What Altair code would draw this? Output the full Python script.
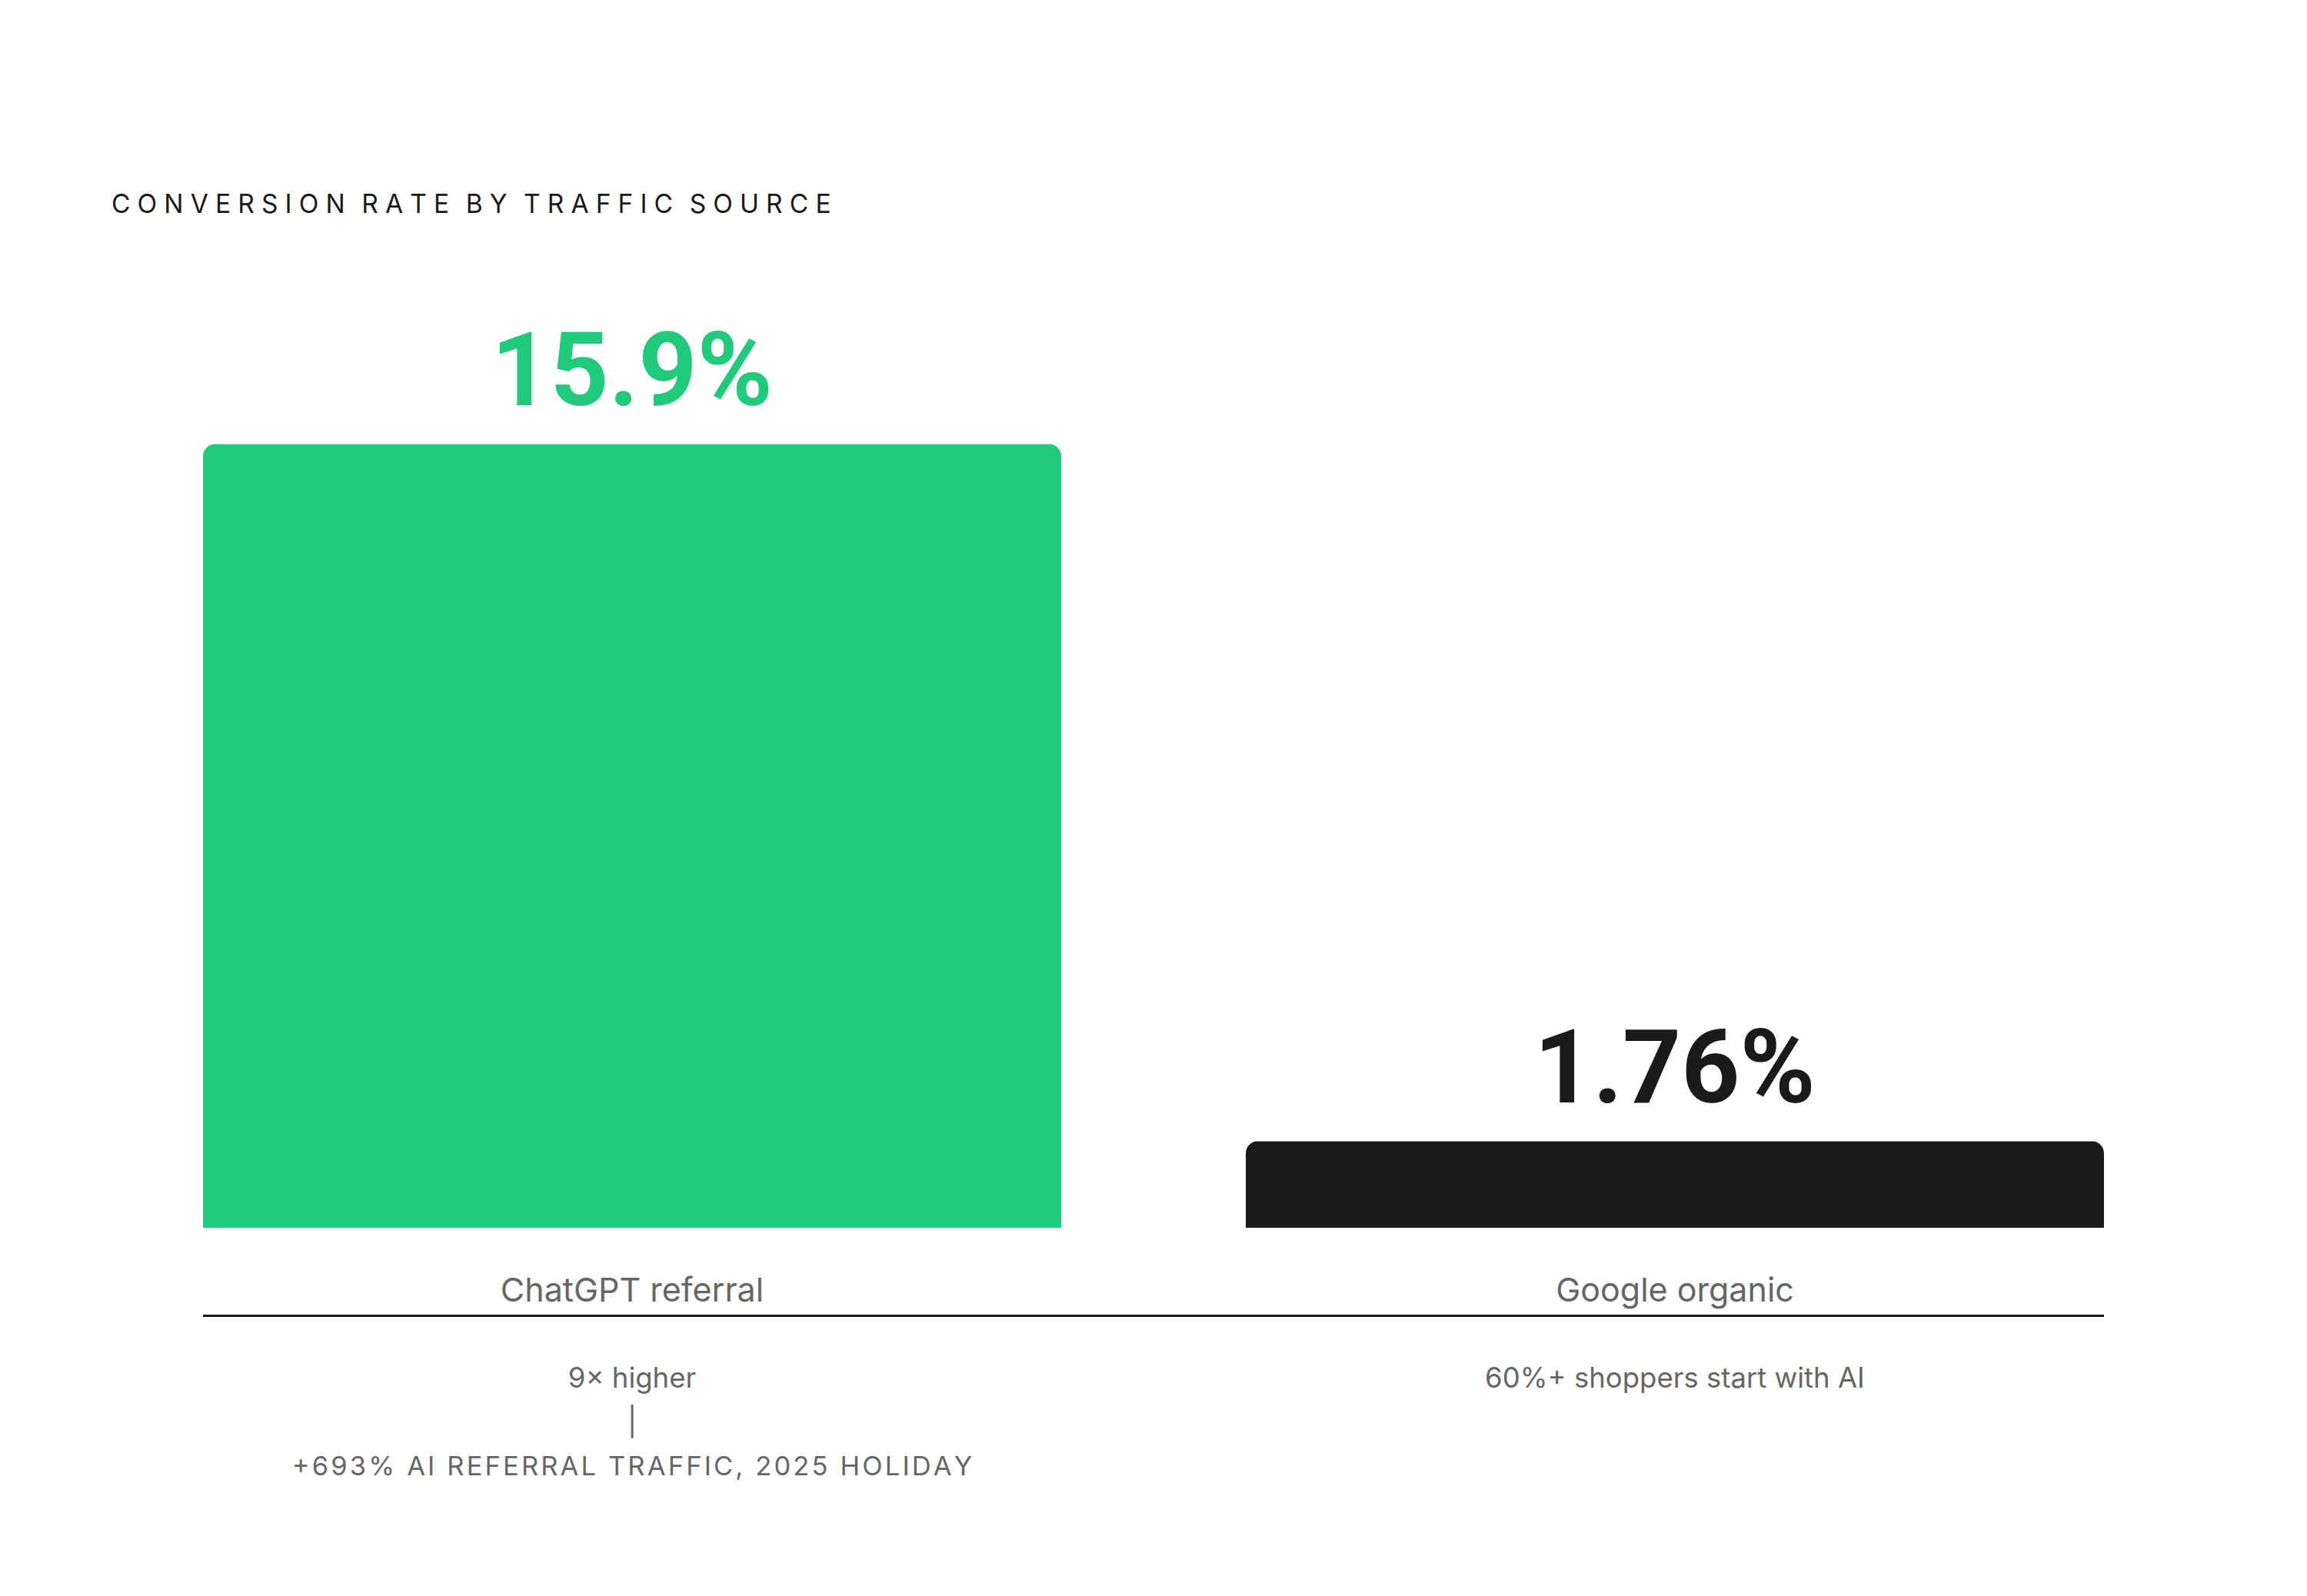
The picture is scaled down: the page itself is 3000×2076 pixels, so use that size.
import altair as alt
import pandas as pd

categories = ["ChatGPT referral", "Google organic"]
rates = [15.9, 1.76]
value_labels = ["15.9%", "1.76%"]
note_lines = [
    ["9× higher", "|"],
    ["60%+ shoppers start with AI"],
]
taglines = ["+693% AI REFERRAL TRAFFIC, 2025 HOLIDAY", ""]
bar_colors = ["#1FCB7B", "#1C1A18"]
title_text = "CONVERSION RATE BY TRAFFIC SOURCE"


def tracked(s, word_sep, gap_sep=None):
    """Insert narrow spaces between letters to imitate letter-spacing."""
    if not s:
        return s
    if gap_sep is None:
        gap_sep = word_sep
    out = s[0]
    for prev, ch in zip(s, s[1:]):
        if prev == " " or ch == " ":
            out += gap_sep + ch
        else:
            out += word_sep + ch
    return out


df = pd.DataFrame({
    "category": categories,
    "rate": rates,
    "label": value_labels,
    "note": ["\n".join(lines) for lines in note_lines],
    "tagline": [tracked(t, "\u200a") for t in taglines],
})

W = 2472
H = 1026
FONT = "Inter"

x_enc = alt.X(
    "category:N",
    sort=categories,
    scale=alt.Scale(paddingInner=240 / 1356, paddingOuter=0),
    axis=None,
)
y_enc = alt.Y("rate:Q", scale=alt.Scale(domain=[0, 16]), axis=None)
color_enc = alt.Color(
    "category:N",
    scale=alt.Scale(domain=categories, range=bar_colors),
    legend=None,
)

base = alt.Chart(df)

bars = base.mark_bar(cornerRadiusTopLeft=16, cornerRadiusTopRight=16).encode(
    x=x_enc, y=y_enc, color=color_enc
)

values = base.mark_text(
    font="Roboto", fontSize=133, fontWeight="bold", baseline="alphabetic", dy=-50
).encode(x=x_enc, y=y_enc, text="label:N", color=color_enc)

cat_labels = base.mark_text(
    font=FONT, fontSize=43, color="#666666", baseline="alphabetic"
).encode(x=x_enc, y=alt.value(1122), text="category:N")

rule = alt.Chart(pd.DataFrame({"k": [0]})).mark_rule(
    color="#1A1A1A", strokeWidth=3
).encode(x=alt.value(0), x2=alt.value(W), y=alt.value(1140.5))

note_text = base.mark_text(
    font=FONT, fontSize=36.5, color="#666666", baseline="alphabetic",
    lineBreak="\n", lineHeight=57
).encode(x=x_enc, y=alt.value(1234), text="note:N")

tag_text = base.mark_text(
    font=FONT, fontSize=34.5, color="#666666", baseline="alphabetic"
).encode(x=x_enc, y=alt.value(1348), text="tagline:N")

spaced_title = tracked(title_text, "\u2009\u200a", "\u2009")
title = alt.Chart(pd.DataFrame({"t": [spaced_title]})).mark_text(
    font=FONT, fontSize=33.5, color="#1A1A1A", align="left", baseline="alphabetic"
).encode(x=alt.value(-119), y=alt.value(-294), text="t:N")

chart = alt.layer(bars, values, cat_labels, rule, note_text, tag_text, title).properties(
    width=W,
    height=H,
    padding={"left": 256, "top": 563, "right": 256, "bottom": 471},
    autosize=alt.AutoSizeParams(type="none"),
    background="white",
).configure_view(stroke=None)

chart.save("out.html", embed_options={"renderer": "svg", "actions": False})
